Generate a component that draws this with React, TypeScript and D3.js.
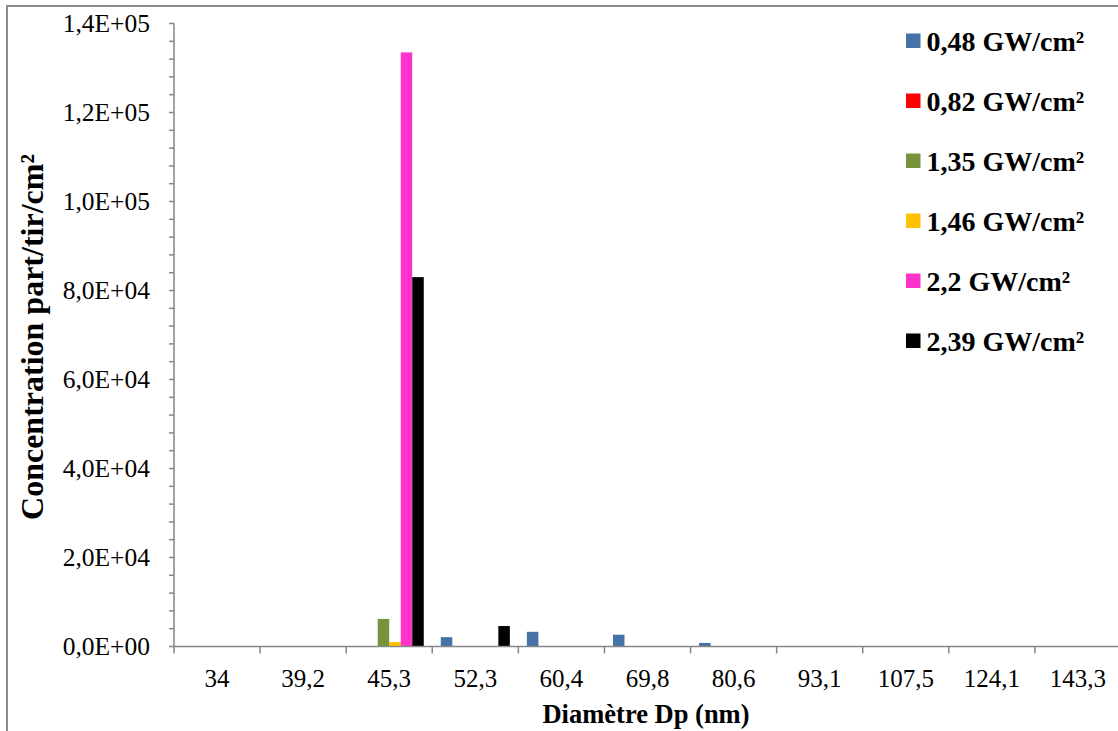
import React from "react";
import * as d3 from "d3";

const categories = ["34", "39,2", "45,3", "52,3", "60,4", "69,8", "80,6", "93,1", "107,5", "124,1", "143,3"];
const seriesNames = ["0,48 GW/cm²", "0,82 GW/cm²", "1,35 GW/cm²", "1,46 GW/cm²", "2,2 GW/cm²", "2,39 GW/cm²"];
const seriesColors = ["#4572A7", "#FF0000", "#77933C", "#FFC000", "#FF33CC", "#000000"];
const s048 = [0, 0, 0, 2100, 3300, 2650, 800, 0, 0, 0, 0];
const s082 = [0, 0, 0, 0, 0, 0, 0, 0, 0, 0, 0];
const s135 = [0, 0, 6200, 0, 0, 0, 0, 0, 0, 0, 0];
const s146 = [0, 0, 1000, 0, 0, 0, 0, 0, 0, 0, 0];
const s220 = [0, 0, 133500, 0, 0, 0, 0, 0, 0, 0, 0];
const s239 = [0, 0, 83000, 4600, 0, 0, 0, 0, 0, 0, 0];
const seriesValues = [s048, s082, s135, s146, s220, s239];
const yTickValues = [0, 20000, 40000, 60000, 80000, 100000, 120000, 140000];
const yTickLabels = ["0,0E+00", "2,0E+04", "4,0E+04", "6,0E+04", "8,0E+04", "1,0E+05", "1,2E+05", "1,4E+05"];

const W = 1118;
const H = 731;
const left = 174;
const right = 1121;
const top = 23.5;
const bottom = 646.5;
const axisColor = "#868686";
const font = "Liberation Serif, Times New Roman, serif";

export default function App() {
  const x = d3.scaleBand<string>().domain(categories).range([left, right]).paddingInner(0).paddingOuter(0);
  const xs = d3
    .scaleBand<number>()
    .domain(seriesNames.map((_, i) => i))
    .range([0, x.bandwidth()])
    .paddingInner(0)
    .paddingOuter(0.74);
  const y = d3.scaleLinear().domain([0, 140000]).range([bottom, top]);
  const minorTicks = d3.range(0, 140001, 4000);

  return (
    <div style={{ position: "absolute", left: 0, top: 0 }}>
      <svg width={W} height={H} style={{ display: "block", background: "#fff", fontFamily: font }}>
        <rect x={7} y={6} width={W + 10} height={H + 10} fill="#fff" stroke="#8c8c8c" strokeWidth={2} />
        {seriesValues.map((vals, si) =>
          vals.map((v, ci) =>
            v > 0 ? (
              <rect
                key={`b${si}-${ci}`}
                x={(x(categories[ci]) as number) + (xs(si) as number)}
                y={y(v)}
                width={xs.bandwidth()}
                height={y(0) - y(v)}
                fill={seriesColors[si]}
              />
            ) : null
          )
        )}
        <line x1={left} x2={left} y1={top} y2={bottom} stroke={axisColor} strokeWidth={1.5} />
        {minorTicks.map((t) => (
          <line key={`m${t}`} x1={left - 5} x2={left} y1={y(t)} y2={y(t)} stroke={axisColor} strokeWidth={1.5} />
        ))}
        {yTickValues.map((t, i) => (
          <text key={`yt${t}`} x={150} y={y(t)} dy="0.35em" textAnchor="end" fontSize={25.5} fill="#000">
            {yTickLabels[i]}
          </text>
        ))}
        <line x1={left} x2={right} y1={bottom} y2={bottom} stroke={axisColor} strokeWidth={1.5} />
        {categories.map((c) => (
          <line
            key={`xt${c}`}
            x1={x(c) as number}
            x2={x(c) as number}
            y1={bottom}
            y2={bottom + 7}
            stroke={axisColor}
            strokeWidth={1.5}
          />
        ))}
        {categories.map((c) => (
          <text
            key={`xl${c}`}
            x={(x(c) as number) + x.bandwidth() / 2}
            y={687}
            textAnchor="middle"
            fontSize={25}
            fill="#000"
          >
            {c}
          </text>
        ))}
        <text x={646} y={723} textAnchor="middle" fontWeight="bold" fontSize={26.5} fill="#000">
          Diamètre Dp (nm)
        </text>
        <text
          transform={`translate(43, 337) rotate(-90)`}
          textAnchor="middle"
          fontWeight="bold"
          fontSize={32}
          fill="#000"
        >
          Concentration part/tir/cm²
        </text>
        {seriesNames.map((n, i) => (
          <g key={`lg${i}`} transform={`translate(906, ${33.5 + i * 60})`}>
            <rect x={0} y={0} width={14.5} height={14.5} fill={seriesColors[i]} />
            <text x={20.5} y={17.5} fontWeight="bold" fontSize={28} fill="#000">
              {n}
            </text>
          </g>
        ))}
      </svg>
    </div>
  );
}
